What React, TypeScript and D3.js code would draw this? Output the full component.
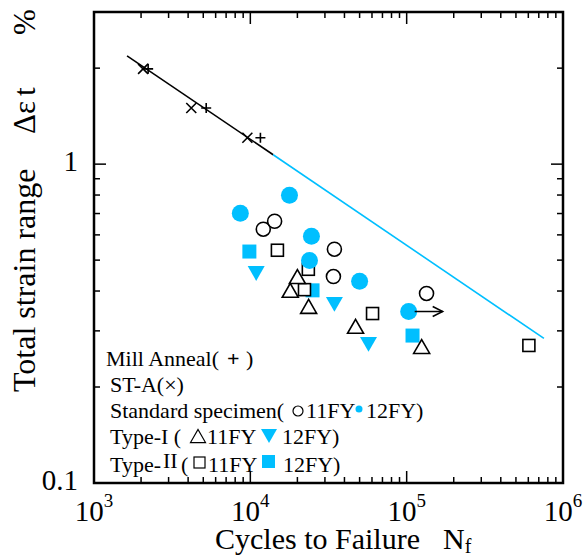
import React from "react";
import * as d3 from "d3";

// fatigue data (cycles, strain range %)
const millAnneal = [[2220, 1.99], [5220, 1.5], [11600, 1.21]];
const stA = [[2060, 1.99], [4190, 1.5], [9570, 1.21]];
const std11 = [[12100, 0.625], [14300, 0.662], [34500, 0.541], [34000, 0.444], [134000, 0.393]];
const std12 = [[8630, 0.701], [17800, 0.799], [24600, 0.594], [23900, 0.499], [50000, 0.429], [103000, 0.345]];
const type1_11 = [[20000, 0.444], [18000, 0.402], [23600, 0.358], [47100, 0.31], [124700, 0.268]];
const type1_12 = [[10900, 0.454], [34500, 0.363], [57000, 0.272]];
const type2_11 = [[14900, 0.537], [23500, 0.468], [22200, 0.404], [60500, 0.34], [605000, 0.27]];
const type2_12 = [[9860, 0.532], [25000, 0.402], [109000, 0.29]];
const fitBlack = [[1627, 2.186], [14000, 1.07]];
const fitBlue = [[14000, 1.07], [755000, 0.284]];
const runout = [[112500, 0.345], [170000, 0.345]];

const xDecades = [1e3, 1e4, 1e5, 1e6];
const xExp = ["3", "4", "5", "6"];
const yLabels = [[1, "1"], [0.1, "0.1"]];

const BLUE = "#00bfff";
const FONT = "'Liberation Serif', 'Times New Roman', serif";

export default function App() {
  const W = 586, H = 557;
  const left = 94, right = 563, top = 12, bottom = 483;
  const x = d3.scaleLog().domain([1e3, 1e6]).range([left, right]);
  const y = d3.scaleLog().domain([0.1, 3]).range([bottom, top]);
  const line = d3.line<number[]>().x((d) => x(d[0])).y((d) => y(d[1]));

  const xMinor: number[] = [];
  [1e3, 1e4, 1e5].forEach((d) => { for (let k = 2; k <= 9; k++) xMinor.push(d * k); });
  const yMinor: number[] = [];
  for (let k = 2; k <= 9; k++) yMinor.push(k / 10);
  yMinor.push(2);

  const tri = (cx: number, cy: number, s: number, down = false) => {
    const h = s * 0.87;
    return down
      ? `M${cx - s / 2},${cy - h / 2}L${cx + s / 2},${cy - h / 2}L${cx},${cy + h / 2}Z`
      : `M${cx - s / 2},${cy + h / 2}L${cx + s / 2},${cy + h / 2}L${cx},${cy - h / 2}Z`;
  };

  return (
    <svg width={W} height={H} style={{ position: "absolute", left: 0, top: 0, background: "#fff" }} fontFamily={FONT}>
      {/* frame */}
      <rect x={left} y={top} width={right - left} height={bottom - top} fill="none" stroke="#000" strokeWidth={2.5} />
      {/* ticks, inward on all sides */}
      <g stroke="#000" strokeWidth={1.5}>
        {xDecades.map((d, i) => (
          <g key={"xm" + i}>
            <line x1={x(d)} x2={x(d)} y1={bottom} y2={bottom - 12} />
            <line x1={x(d)} x2={x(d)} y1={top} y2={top + 12} />
          </g>
        ))}
        {xMinor.map((d, i) => (
          <g key={"xn" + i}>
            <line x1={x(d)} x2={x(d)} y1={bottom} y2={bottom - 6} />
            <line x1={x(d)} x2={x(d)} y1={top} y2={top + 6} />
          </g>
        ))}
        {[0.1, 1].map((d, i) => (
          <g key={"ym" + i}>
            <line y1={y(d)} y2={y(d)} x1={left} x2={left + 12} />
            <line y1={y(d)} y2={y(d)} x1={right} x2={right - 12} />
          </g>
        ))}
        {yMinor.map((d, i) => (
          <g key={"yn" + i}>
            <line y1={y(d)} y2={y(d)} x1={left} x2={left + 6} />
            <line y1={y(d)} y2={y(d)} x1={right} x2={right - 6} />
          </g>
        ))}
      </g>
      {/* tick labels */}
      {yLabels.map(([v, t]) => (
        <text key={t as string} x={78} y={y(v as number) + 7} textAnchor="end" fontSize={29}>{t}</text>
      ))}
      {xDecades.map((d, i) => (
        <text key={"xl" + i} x={x(d)} y={521} fontSize={29} textAnchor="middle">
          10<tspan dy={-14} fontSize={19}>{xExp[i]}</tspan>
        </text>
      ))}
      {/* axis titles */}
      <text x={215} y={549} fontSize={30}>Cycles to Failure</text>
      <text x={443} y={549} fontSize={30}>N<tspan dy={4} fontSize={20}>f</tspan></text>
      <text transform="translate(35,392) rotate(-90)" fontSize={32}>Total strain range</text>
      <text transform="translate(35,134) rotate(-90)" fontSize={31}>Δε</text>
      <text transform="translate(35,96) rotate(-90)" fontSize={31}>t</text>
      <text transform="translate(35,35) rotate(-90)" fontSize={31}>%</text>

      {/* fit lines */}
      <path d={line(fitBlack) || ""} fill="none" stroke="#000" strokeWidth={1.6} />
      <path d={line(fitBlue) || ""} fill="none" stroke={BLUE} strokeWidth={1.6} />

      {/* mill anneal + and ST-A x */}
      <g stroke="#000" strokeWidth={1.6}>
        {millAnneal.map((d, i) => (
          <path key={"p" + i} d={`M${x(d[0]) - 5},${y(d[1])}h10M${x(d[0])},${y(d[1]) - 5}v10`} />
        ))}
        {stA.map((d, i) => (
          <path key={"x" + i} d={`M${x(d[0]) - 5},${y(d[1]) - 5}l10,10M${x(d[0]) - 5},${y(d[1]) + 5}l10,-10`} />
        ))}
      </g>

      {/* type II 12FY filled squares */}
      {type2_12.map((d, i) => (
        <rect key={"s12" + i} x={x(d[0]) - 7} y={y(d[1]) - 7} width={14} height={14} fill={BLUE} />
      ))}
      {/* type II 11FY open squares */}
      {type2_11.map((d, i) => (
        <rect key={"s11" + i} x={x(d[0]) - 6} y={y(d[1]) - 6} width={12} height={12} fill="#fff" stroke="#000" strokeWidth={1.6} />
      ))}
      {/* type I 11FY open triangles */}
      {type1_11.map((d, i) => (
        <path key={"t11" + i} d={tri(x(d[0]), y(d[1]), 16)} fill="#fff" stroke="#000" strokeWidth={1.6} />
      ))}
      {/* type I 12FY filled down triangles */}
      {type1_12.map((d, i) => (
        <path key={"t12" + i} d={tri(x(d[0]), y(d[1]), 17, true)} fill={BLUE} />
      ))}
      {/* standard specimen */}
      {std11.map((d, i) => (
        <circle key={"c11" + i} cx={x(d[0])} cy={y(d[1])} r={7} fill="none" stroke="#000" strokeWidth={1.6} />
      ))}
      {std12.map((d, i) => (
        <circle key={"c12" + i} cx={x(d[0])} cy={y(d[1])} r={8.5} fill={BLUE} />
      ))}
      {/* run-out arrow */}
      <path d={line(runout) || ""} stroke="#000" strokeWidth={1.5} fill="none" />
      <path
        d={`M${x(runout[1][0]) - 10},${y(runout[1][1]) - 5}L${x(runout[1][0])},${y(runout[1][1])}L${x(runout[1][0]) - 10},${y(runout[1][1]) + 5}`}
        stroke="#000" strokeWidth={1.5} fill="none"
      />

      {/* legend */}
      <g fontSize={22}>
        <text x={106} y={366}>Mill Anneal(<tspan x={227} fontWeight="bold">+</tspan><tspan x={246}>)</tspan></text>
        <text x={110} y={392}>ST-A(×)</text>
        <text x={110} y={418}>Standard specimen(</text>
        <circle cx={298} cy={411} r={5} fill="none" stroke="#000" strokeWidth={1.2} />
        <text x={306} y={418}>11FY</text>
        <circle cx={359} cy={409} r={3.5} fill={BLUE} />
        <text x={366} y={418}>12FY)</text>
        <text x={110} y={444}>Type-I (</text>
        <path d={tri(198, 436, 15)} fill="none" stroke="#000" strokeWidth={1.2} />
        <text x={207} y={444}>11FY</text>
        <path d={tri(269, 436, 16, true)} fill={BLUE} />
        <text x={282} y={444}>12FY)</text>
        <text x={110} y={472}>Type-</text>
        <text x={163} y={468}>II</text>
        <text x={181} y={472}>(</text>
        <rect x={194} y={457} width={11} height={11} fill="none" stroke="#000" strokeWidth={1.2} />
        <text x={208} y={472}>11FY</text>
        <rect x={262} y={455} width={13} height={13} fill={BLUE} />
        <text x={283} y={472}>12FY)</text>
      </g>
    </svg>
  );
}
